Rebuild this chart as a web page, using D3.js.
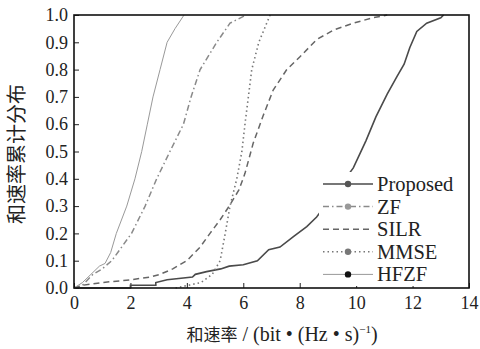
<!DOCTYPE html>
<html>
<head>
<meta charset="utf-8">
<script src="https://cdn.jsdelivr.net/npm/d3@7/dist/d3.min.js"></script>
<style>
  html, body { margin: 0; padding: 0; background: #fff; }
  svg text { fill: #222; }
</style>
</head>
<body>
<div id="chart"></div>
<script>
// values (rate in bit/(Hz·s), CDF)
const proposedRate = [0, 2.0, 2.0, 2.9, 2.9, 3.3, 4.2, 4.3, 4.7, 5.2, 5.5, 6.0, 6.5, 6.9, 7.3, 7.8, 8.25, 8.6, 8.96, 9.4, 9.9, 10.35, 10.7, 11.1, 11.45, 11.7, 11.9, 12.15, 12.5, 13.0, 13.1];
const proposedCdf  = [0, 0, 0.01, 0.01, 0.02, 0.03, 0.04, 0.05, 0.06, 0.07, 0.08, 0.085, 0.1, 0.14, 0.15, 0.19, 0.225, 0.26, 0.31, 0.37, 0.44, 0.54, 0.627, 0.71, 0.775, 0.82, 0.88, 0.94, 0.97, 0.99, 1.0];

const zfRate = [0, 0.3, 0.67, 1.0, 1.34, 2.04, 2.52, 2.93, 3.4, 3.88, 4.15, 4.47, 5.06, 5.53, 6.1];
const zfCdf  = [0, 0.01, 0.05, 0.07, 0.1, 0.2, 0.3, 0.4, 0.5, 0.6, 0.7, 0.8, 0.9, 0.97, 1.0];

const silrRate = [0, 0.3, 1.0, 2.0, 2.7, 3.05, 3.5, 4.0, 4.47, 4.82, 5.18, 5.5, 5.85, 6.06, 6.35, 6.7, 7.06, 7.54, 8.0, 8.6, 9.2, 9.9, 10.6, 11.1];
const silrCdf  = [0, 0.01, 0.02, 0.03, 0.04, 0.05, 0.07, 0.1, 0.15, 0.2, 0.25, 0.3, 0.36, 0.42, 0.53, 0.63, 0.725, 0.8, 0.846, 0.91, 0.945, 0.97, 0.99, 1.0];

const mmseRate = [3.6, 4.5, 4.9, 5.18, 5.36, 5.53, 5.77, 5.95, 6.06, 6.18, 6.3, 6.55, 6.75, 6.95];
const mmseCdf  = [0, 0.02, 0.05, 0.1, 0.2, 0.3, 0.4, 0.5, 0.6, 0.7, 0.8, 0.9, 0.95, 1.0];

const hfzfRate = [0, 0.3, 0.6, 0.9, 1.1, 1.3, 1.5, 1.87, 2.16, 2.4, 2.6, 2.8, 3.05, 3.3, 3.58, 3.9];
const hfzfCdf  = [0, 0.02, 0.05, 0.08, 0.09, 0.13, 0.2, 0.3, 0.4, 0.5, 0.6, 0.7, 0.8, 0.9, 0.95, 1.0];

const xTicks = [0, 2, 4, 6, 8, 10, 12, 14];
const yTicks = [0, 0.1, 0.2, 0.3, 0.4, 0.5, 0.6, 0.7, 0.8, 0.9, 1.0];

const seriesNames = ['Proposed', 'ZF', 'SILR', 'MMSE', 'HFZF'];

const width = 480, height = 349;
const margin = { top: 15, right: 11, bottom: 61, left: 74 };
const w = width - margin.left - margin.right;
const h = height - margin.top - margin.bottom;

const serif = '"Liberation Serif", "DejaVu Serif", serif';
const cjk = '"Noto Sans CJK SC", "Noto Sans", sans-serif';

const series = [
  { name: 'Proposed', rate: proposedRate, cdf: proposedCdf, color: '#4a4a4a', width: 1.6, dash: null, marker: '#555' },
  { name: 'ZF', rate: zfRate, cdf: zfCdf, color: '#8a8a8a', width: 1.5, dash: '6,3,1.5,3', marker: '#999' },
  { name: 'SILR', rate: silrRate, cdf: silrCdf, color: '#666', width: 1.5, dash: '6,4', marker: null },
  { name: 'MMSE', rate: mmseRate, cdf: mmseCdf, color: '#777', width: 1.6, dash: '1.5,3', marker: '#777' },
  { name: 'HFZF', rate: hfzfRate, cdf: hfzfCdf, color: '#999', width: 1, dash: null, marker: '#111' }
];

const svg = d3.select('#chart').append('svg')
  .attr('width', width)
  .attr('height', height);

const g = svg.append('g')
  .attr('transform', `translate(${margin.left},${margin.top})`);

const x = d3.scaleLinear().domain([0, 14]).range([0, w]);
const y = d3.scaleLinear().domain([0, 1]).range([h, 0]);

// axes, ticks pointing inward
const xAxis = g.append('g')
  .attr('transform', `translate(0,${h})`)
  .call(d3.axisBottom(x).tickValues(xTicks).tickSizeInner(-5).tickSizeOuter(0).tickPadding(8).tickFormat(d3.format('d')));

const yAxis = g.append('g')
  .call(d3.axisLeft(y).tickValues(yTicks).tickSizeInner(-5).tickSizeOuter(0).tickPadding(6).tickFormat(d3.format('.1f')));

[xAxis, yAxis].forEach(a => {
  a.select('.domain').remove();
  a.selectAll('line').attr('stroke', '#222').attr('stroke-width', 1);
  a.selectAll('text')
    .style('font-family', serif)
    .style('font-size', '18px')
    .attr('fill', '#222');
});

// curves
const line = d3.line()
  .x(d => x(d[0]))
  .y(d => y(d[1]));

series.forEach(s => {
  g.append('path')
    .datum(d3.zip(s.rate, s.cdf))
    .attr('fill', 'none')
    .attr('stroke', s.color)
    .attr('stroke-width', s.width)
    .attr('stroke-dasharray', s.dash)
    .attr('d', line);
});

// frame
g.append('rect')
  .attr('width', w)
  .attr('height', h)
  .attr('fill', 'none')
  .attr('stroke', '#111')
  .attr('stroke-width', 1.6);

// legend
const legend = g.append('g')
  .attr('transform', `translate(${w - 150},${h - 116})`);

legend.append('rect')
  .attr('x', 0).attr('y', 0)
  .attr('width', 146).attr('height', 114)
  .attr('fill', '#fff');

series.forEach((s, i) => {
  const row = legend.append('g').attr('transform', `translate(0,${12 + i * 22.6})`);
  row.append('line')
    .attr('x1', 4).attr('x2', 54)
    .attr('stroke', s.color)
    .attr('stroke-width', s.width)
    .attr('stroke-dasharray', s.dash);
  if (s.marker) {
    row.append('circle')
      .attr('cx', 29).attr('r', 3.2)
      .attr('fill', s.marker);
  }
  row.append('text')
    .attr('x', 58).attr('y', 7)
    .style('font-family', serif)
    .style('font-size', '20.5px')
    .text(seriesNames[i]);
});

// axis titles
const xt = svg.append('text')
  .attr('x', 282)
  .attr('y', 341)
  .attr('text-anchor', 'middle')
  .style('font-size', '20px');
xt.append('tspan').style('font-family', cjk).style('font-size', '17px').text('和速率');
xt.append('tspan').style('font-family', serif).text(' / (bit • (Hz • s)');
xt.append('tspan').style('font-family', serif).style('font-size', '11px').attr('dy', -8).text('−1');
xt.append('tspan').style('font-family', serif).attr('dy', 8).text(')');

svg.append('text')
  .attr('transform', `translate(24,154) rotate(-90)`)
  .attr('text-anchor', 'middle')
  .style('font-family', cjk)
  .style('font-size', '20px')
  .text('和速率累计分布');
</script>
</body>
</html>
